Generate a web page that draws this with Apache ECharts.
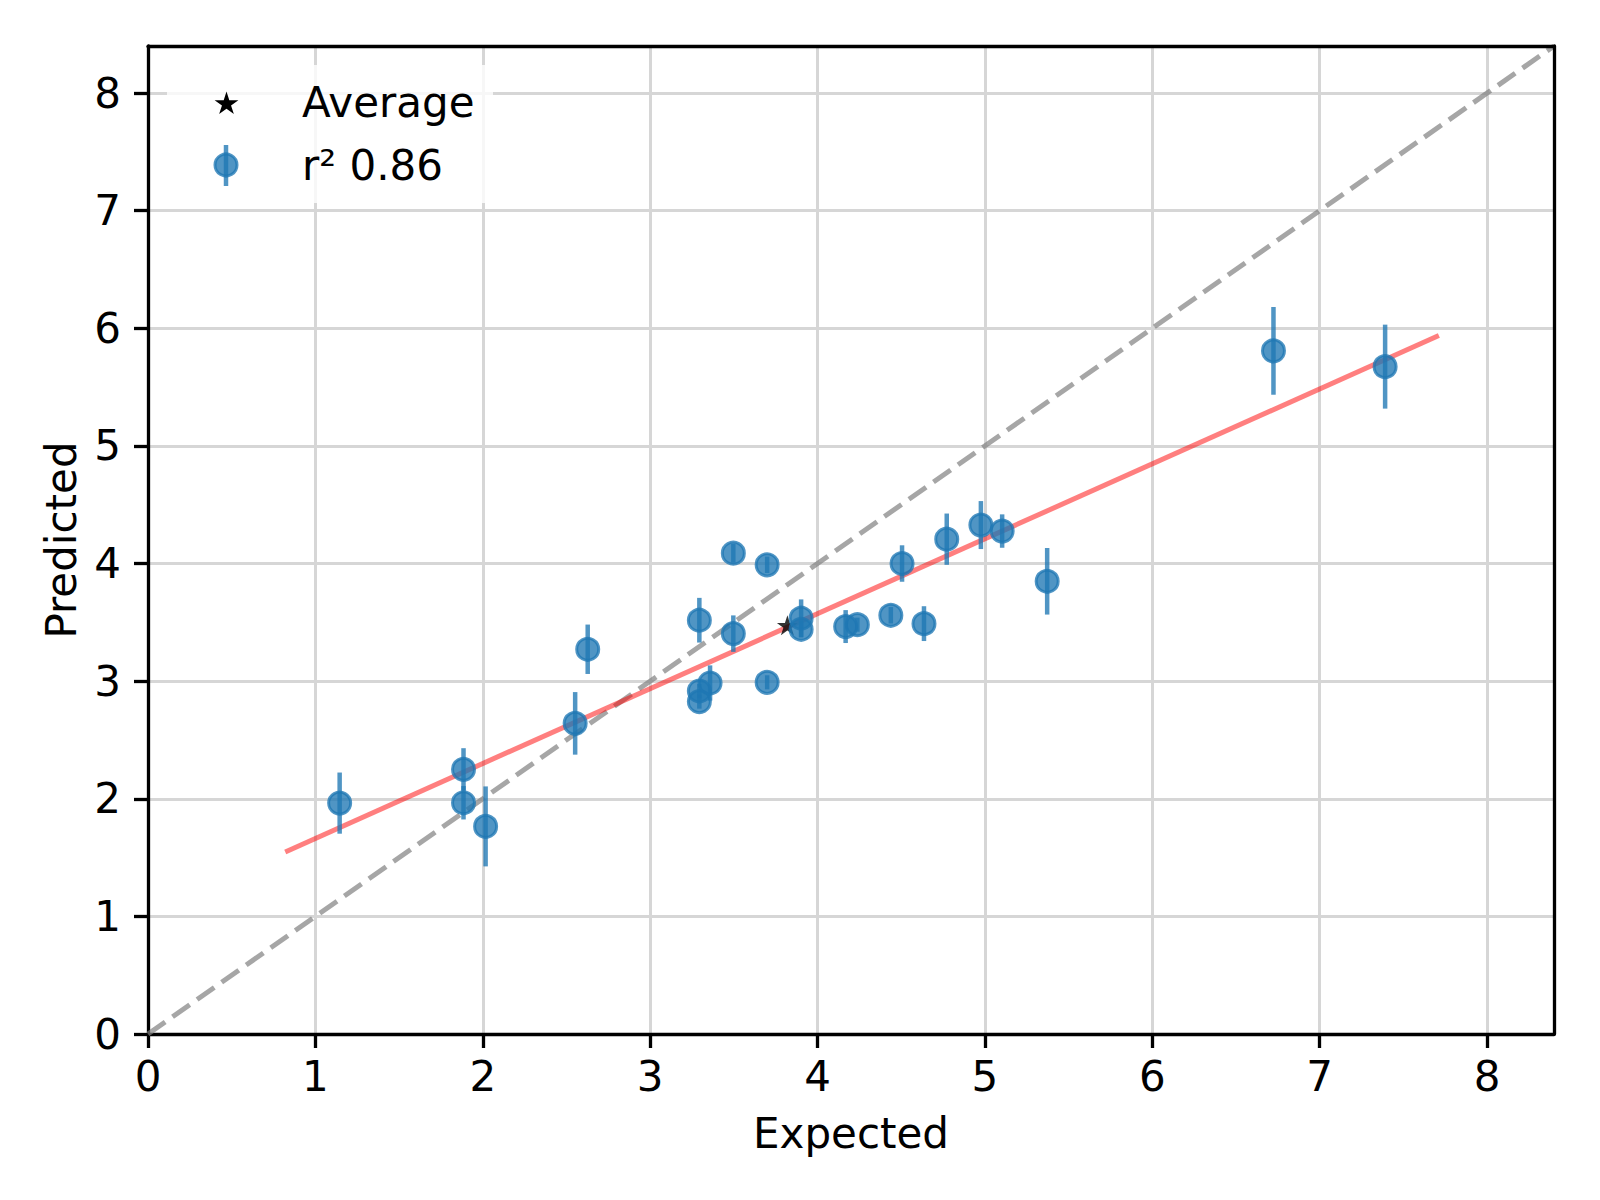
<!DOCTYPE html>
<html><head><meta charset="utf-8">
<script src="https://cdn.jsdelivr.net/npm/echarts@6/dist/echarts.min.js"></script>
<style>html,body{margin:0;padding:0;background:#fff}#c{width:1600px;height:1200px}</style>
</head><body><div id="c"></div>
<script>
const expected  = [1.145,1.885,1.885,2.017,2.552,2.627,3.294,3.294,3.294,3.358,3.497,3.497,3.699,3.699,3.902,3.902,4.168,4.238,4.438,4.636,4.505,4.772,4.976,5.103,5.372,6.724,7.391];
const predicted = [1.963,2.250,1.966,1.765,2.641,3.271,3.518,2.916,2.826,2.984,4.088,3.404,3.989,2.990,3.535,3.441,3.464,3.480,3.560,3.489,4.000,4.207,4.327,4.276,3.849,5.808,5.674];
const errors    = [0.26,0.18,0.142,0.34,0.266,0.21,0.19,0.06,0.06,0.15,0.08,0.155,0.07,0.06,0.16,0.07,0.14,0.06,0.07,0.148,0.155,0.218,0.204,0.142,0.283,0.373,0.357];
const average   = [3.82, 3.475];
const fitLine   = [[0.82, 1.548], [7.712, 5.938]];
const identity  = [[0, 0], [8.4, 8.4]];
const xTicks = [0,1,2,3,4,5,6,7,8];
const yTicks = [0,1,2,3,4,5,6,7,8];
const legendNames = ['Average', 'r\u00b2 0.86'];
const xName = 'Expected', yName = 'Predicted';

const FONT = 'DejaVu Sans';
const BLUE = '#1f77b4';
function starPts(cx, cy, r){
  const p=[]; for(let i=0;i<10;i++){const rr=i%2?r*0.381966:r; const a=-Math.PI/2+i*Math.PI/5; p.push([cx+rr*Math.cos(a), cy+rr*Math.sin(a)]);} return p;
}
const starPath = 'path://M' + starPts(0,0,1).map(p=>p[0].toFixed(4)+','+p[1].toFixed(4)).join('L') + 'Z';

const chart = echarts.init(document.getElementById('c'), null, {renderer:'svg'});
const axisLineStyle = {color:'#000', width:3.3};
function mainAxis(ticks, isX){
  return {
    type:'value', min:0, max:8.4, interval:1,
    axisLine:{show:true, onZero:false, lineStyle:axisLineStyle},
    axisTick:{show:true, inside:false, length:14, lineStyle:{color:'#000', width:3.3}, customValues:ticks},
    axisLabel:{show:true, margin:isX?21:27, fontSize:42, color:'#000', fontFamily:FONT, customValues:ticks},
    splitLine:{show:true, lineStyle:{color:'#d6d6d6', width:3}},
    name: isX?xName:yName, nameLocation:'middle', nameGap: isX?78:66,
    nameTextStyle:{fontSize:42, color:'#000', fontFamily:FONT}
  };
}
function frameAxis(pos){
  return {type:'value', min:0, max:8.4, position:pos, z:10,
    axisLine:{show:true, onZero:false, lineStyle:axisLineStyle},
    axisTick:{show:false}, axisLabel:{show:false}, splitLine:{show:false}};
}
const leg = {x:167, y:65, w:326, h:138};
chart.setOption({
  animation:false,
  backgroundColor:'#fff',
  grid:{left:148, right:46, top:46, bottom:166, containLabel:false, outerBoundsMode:'none'},
  xAxis:[mainAxis(xTicks,true), frameAxis('top')],
  yAxis:[mainAxis(yTicks,false), frameAxis('right')],
  series:[
    {type:'line', data:identity, symbol:'none', silent:true, z:1,
     lineStyle:{color:'#808080', opacity:0.7, width:5, type:[21,9]}},
    {type:'line', data:fitLine, symbol:'none', silent:true, z:2,
     lineStyle:{color:'#ff0000', opacity:0.5, width:5}},
    {type:'scatter', name:legendNames[0], data:[average], symbol:starPath, symbolSize:[21,20], z:3,
     itemStyle:{color:'#000'}},
    {type:'custom', z:4, data: expected.map((x,i)=>[x, predicted[i], errors[i]]), encode:{x:0,y:1},
     renderItem:function(params, api){
       const x=api.value(0), y=api.value(1), e=api.value(2);
       const a=api.coord([x,y-e]), b=api.coord([x,y+e]);
       return {type:'line', shape:{x1:a[0],y1:a[1],x2:b[0],y2:b[1]}, style:{stroke:BLUE, lineWidth:4.5, opacity:0.78}};
     }},
    {type:'scatter', name:legendNames[1], z:5, data: expected.map((x,i)=>[x, predicted[i]]), symbol:'circle', symbolSize:22,
     itemStyle:{color:BLUE, opacity:0.78, borderColor:BLUE, borderWidth:3}}
  ],
  graphic:[
    {type:'rect', z:100, shape:{x:leg.x, y:leg.y, width:leg.w, height:leg.h}, style:{fill:'rgba(255,255,255,0.8)'}},
    {type:'polygon', z:101, shape:{points:starPts(226.5,104,12.5)}, style:{fill:'#000'}},
    {type:'text', z:101, x:302, y:102, style:{text:legendNames[0], font:'42px "DejaVu Sans"', fill:'#000', verticalAlign:'middle', align:'left'}},
    {type:'line', z:101, shape:{x1:226, y1:145, x2:226, y2:186}, style:{stroke:BLUE, lineWidth:4.5, opacity:0.78}},
    {type:'circle', z:101, shape:{cx:226, cy:165, r:11}, style:{fill:BLUE, stroke:BLUE, lineWidth:3, opacity:0.78}},
    {type:'text', z:101, x:302, y:165, style:{text:legendNames[1], font:'42px "DejaVu Sans"', fill:'#000', verticalAlign:'middle', align:'left'}}
  ]
});
</script></body></html>
